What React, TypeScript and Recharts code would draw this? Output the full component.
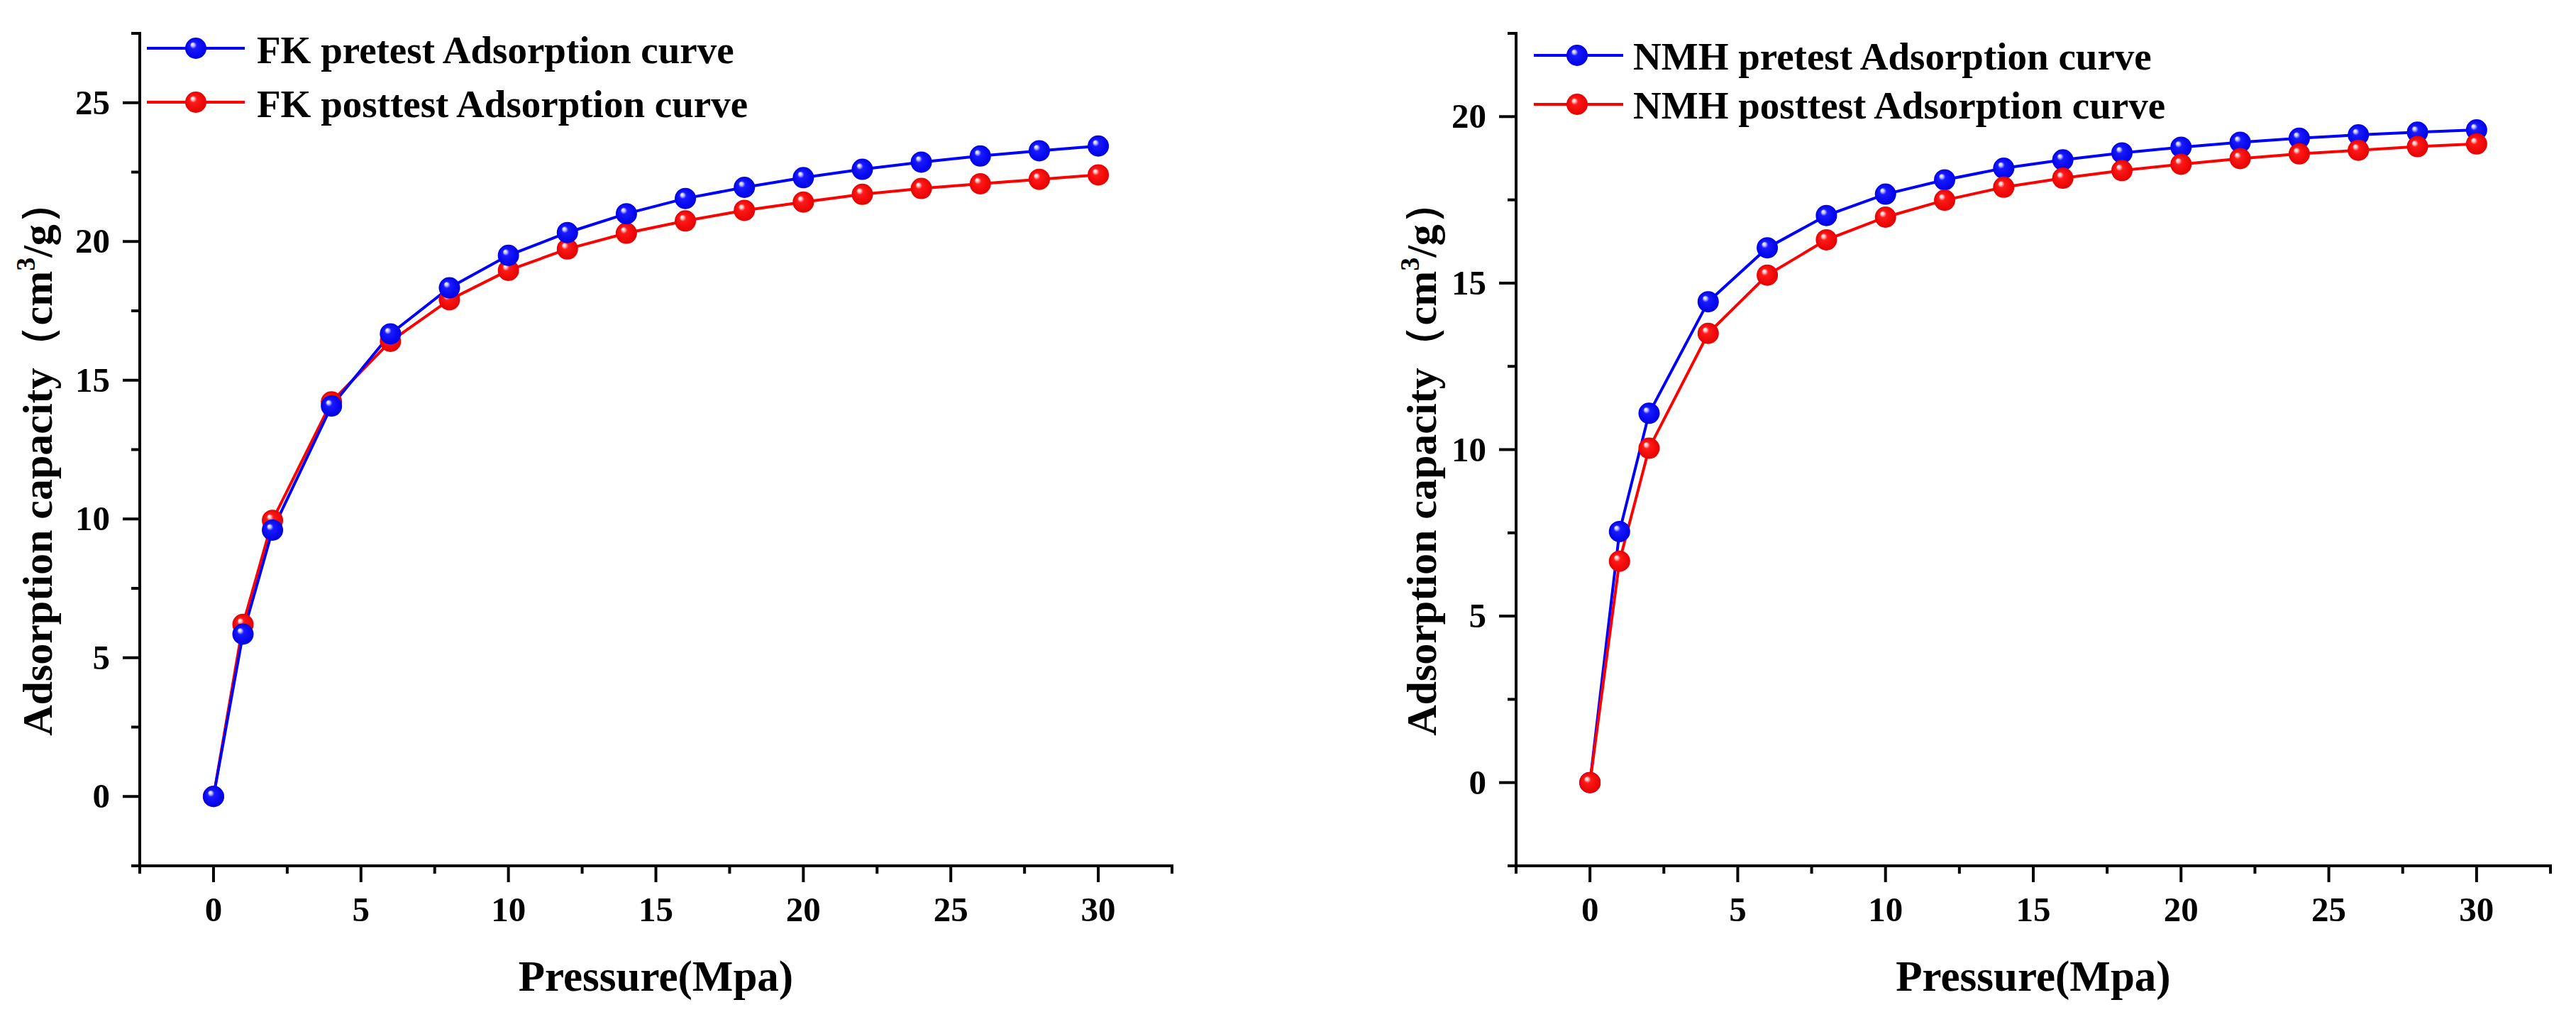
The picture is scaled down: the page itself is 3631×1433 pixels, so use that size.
import React from 'react';
import { LineChart, Line, XAxis, YAxis, Label, Legend } from 'recharts';

// ---------- data ----------
const pressure = [0, 1, 2, 4, 6, 8, 10, 12, 14, 16, 18, 20, 22, 24, 26, 28, 30];

const fkPretest = [0, 5.85, 9.6, 14.07, 16.67, 18.33, 19.5, 20.32, 21.0, 21.55, 21.95, 22.3, 22.6, 22.86, 23.08, 23.27, 23.44];
const fkPosttest = [0, 6.2, 9.95, 14.22, 16.4, 17.9, 18.96, 19.73, 20.3, 20.74, 21.12, 21.42, 21.7, 21.91, 22.08, 22.24, 22.4];

const nmhPretest = [0, 7.54, 11.09, 14.44, 16.06, 17.03, 17.67, 18.1, 18.45, 18.7, 18.91, 19.08, 19.23, 19.35, 19.45, 19.53, 19.6];
const nmhPosttest = [0, 6.65, 10.04, 13.49, 15.24, 16.3, 16.98, 17.49, 17.88, 18.15, 18.38, 18.57, 18.74, 18.88, 18.99, 19.1, 19.18];

const xTicks = [-2.5, 0, 2.5, 5, 7.5, 10, 12.5, 15, 17.5, 20, 22.5, 25, 27.5, 30, 32.5];
const fkYTicks = [-2.5, 0, 2.5, 5, 7.5, 10, 12.5, 15, 17.5, 20, 22.5, 25, 27.5];
const nmhYTicks = [-2.5, 0, 2.5, 5, 7.5, 10, 12.5, 15, 17.5, 20, 22.5];

const fkNames = ['FK pretest Adsorption curve', 'FK posttest Adsorption curve'];
const nmhNames = ['NMH pretest Adsorption curve', 'NMH posttest Adsorption curve'];

const BLUE = '#0000FF';
const RED = '#FF0000';
const FONT = '"Times New Roman", "Liberation Serif", serif';

const fkData = pressure.map((p, i) => ({ p, pre: fkPretest[i], post: fkPosttest[i] }));
const nmhData = pressure.map((p, i) => ({ p, pre: nmhPretest[i], post: nmhPosttest[i] }));

// ---------- helpers ----------
const isMajor = (v: number) => Math.abs(v % 5) < 1e-6;

const XTick = (props: any) => {
  const { x, y, payload } = props;
  const v = payload.value;
  const major = isMajor(v);
  return (
    <g>
      <line x1={x} x2={x} y1={y} y2={y + (major ? 23 : 11)} stroke="#000" strokeWidth={4} />
      {major && (
        <text x={x} y={y + 78} textAnchor="middle" fontFamily={FONT} fontWeight="bold" fontSize={49} fill="#000">
          {v}
        </text>
      )}
    </g>
  );
};

const YTick = (props: any) => {
  const { x, y, payload } = props;
  const v = payload.value;
  const major = isMajor(v);
  return (
    <g>
      <line x1={x} x2={x - (major ? 24 : 12)} y1={y} y2={y} stroke="#000" strokeWidth={4} />
      {major && (
        <text x={x - 42} y={y + 16} textAnchor="end" fontFamily={FONT} fontWeight="bold" fontSize={49} fill="#000">
          {v}
        </text>
      )}
    </g>
  );
};

const Ball = (props: any) => {
  const { cx, cy, grad } = props;
  if (cx == null || cy == null) return null;
  return <circle cx={cx} cy={cy} r={15} fill={`url(#${grad})`} />;
};

const Gradients = () => (
  <defs>
    <radialGradient id="gradBlue" cx="0.5" cy="0.5" r="0.5" fx="0.33" fy="0.3">
      <stop offset="0" stopColor="#ffffff" />
      <stop offset="0.14" stopColor="#c8c8ff" />
      <stop offset="0.32" stopColor="#1a1aff" />
      <stop offset="1" stopColor="#0000e6" />
    </radialGradient>
    <radialGradient id="gradRed" cx="0.5" cy="0.5" r="0.5" fx="0.33" fy="0.3">
      <stop offset="0" stopColor="#ffffff" />
      <stop offset="0.14" stopColor="#ffc8c8" />
      <stop offset="0.32" stopColor="#ff1a1a" />
      <stop offset="1" stopColor="#e60000" />
    </radialGradient>
  </defs>
);

const makeLegend = (names: string[], cfg: any) => () => {
  const items = [
    { name: names[0], color: BLUE, grad: 'gradBlue' },
    { name: names[1], color: RED, grad: 'gradRed' },
  ];
  return (
    <svg width={1300} height={200} style={{ display: 'block', overflow: 'visible' }}>
      {items.map((it, i) => {
        const y = cfg.rows[i];
        return (
          <g key={it.name}>
            <line x1={cfg.x1} x2={cfg.x2} y1={y} y2={y} stroke={it.color} strokeWidth={4} />
            <circle cx={cfg.mx} cy={y} r={15} fill={`url(#${it.grad})`} />
            <text x={cfg.tx} y={y + cfg.base} fontFamily={FONT} fontWeight="bold" fontSize={55} fill="#000">
              {it.name}
            </text>
          </g>
        );
      })}
    </svg>
  );
};

const XTitle = (props: any) => {
  const vb = props.viewBox || {};
  return (
    <text x={vb.x + vb.width / 2} y={vb.y + 176} textAnchor="middle" fontFamily={FONT} fontWeight="bold" fontSize={61} fill="#000">
      Pressure(Mpa)
    </text>
  );
};

const makeYTitle = (gap: number, plotTop: number, plotBottom: number) => (props: any) => {
  const vb = props.viewBox || {};
  const cx = vb.x + vb.width - gap;
  const cy = (plotTop + plotBottom) / 2 + 13;
  return (
    <text
      x={cx}
      y={cy}
      transform={`rotate(-90, ${cx}, ${cy})`}
      textAnchor="middle"
      fontFamily={FONT}
      fontWeight="bold"
      fontSize={60}
      fill="#000"
    >
      Adsorption capacity（cm
      <tspan dy={-24} fontSize={38}>3</tspan>
      <tspan dy={24}>/g）</tspan>
    </text>
  );
};

const axisLineStyle = { stroke: '#000', strokeWidth: 4, strokeLinecap: 'square' as const };

type PanelProps = {
  width: number;
  data: any[];
  marginLeft: number;
  marginRight: number;
  yDomain: [number, number];
  yTicks: number[];
  names: string[];
  blueOnTop: boolean;
  legendCfg: any;
  titleGap: number;
};

const Panel = (p: PanelProps) => {
  const H = 1433;
  const top = 47;
  const bottom = 113;
  const plotBottom = H - bottom - 100;
  const blue = (
    <Line
      key="pre"
      type="linear"
      dataKey="pre"
      stroke={BLUE}
      strokeWidth={4}
      dot={(d: any) => <Ball key={`b${d.index}`} {...d} grad="gradBlue" />}
      activeDot={false}
      isAnimationActive={false}
    />
  );
  const red = (
    <Line
      key="post"
      type="linear"
      dataKey="post"
      stroke={RED}
      strokeWidth={4}
      dot={(d: any) => <Ball key={`r${d.index}`} {...d} grad="gradRed" />}
      activeDot={false}
      isAnimationActive={false}
    />
  );
  return (
    <LineChart
      width={p.width}
      height={H}
      data={p.data}
      margin={{ top, right: p.marginRight, bottom, left: p.marginLeft }}
    >
      <Gradients />
      <XAxis
        type="number"
        dataKey="p"
        domain={[-2.5, 32.5]}
        ticks={xTicks}
        interval={0}
        height={100}
        tickSize={0}
        tickMargin={0}
        tickLine={false}
        axisLine={axisLineStyle}
        tick={<XTick />}
        allowDataOverflow
      >
        <Label content={<XTitle />} />
      </XAxis>
      <YAxis
        type="number"
        domain={p.yDomain}
        ticks={p.yTicks}
        interval={0}
        width={120}
        tickSize={0}
        tickMargin={0}
        tickLine={false}
        axisLine={axisLineStyle}
        tick={<YTick />}
        allowDataOverflow
      >
        <Label content={makeYTitle(p.titleGap, top, plotBottom)} />
      </YAxis>
      <Legend
        layout="vertical"
        align="center"
        verticalAlign="middle"
        content={makeLegend(p.names, p.legendCfg)}
        wrapperStyle={{ left: 0, top: 0, width: 1300, height: 200, margin: 0, padding: 0 }}
      />
      {p.blueOnTop ? [red, blue] : [blue, red]}
    </LineChart>
  );
};

export default function App() {
  return (
    <div style={{ position: 'absolute', left: 0, top: 0, width: 3631, height: 1433, background: '#fff' }}>
      <div style={{ position: 'absolute', left: 0, top: 0 }}>
        <Panel
          width={1800}
          data={fkData}
          marginLeft={77}
          marginRight={148}
          yDomain={[-2.5, 27.5]}
          yTicks={fkYTicks}
          names={fkNames}
          blueOnTop={true}
          legendCfg={{ rows: [68, 144], x1: 207, x2: 345, mx: 276, tx: 362, base: 21 }}
          titleGap={124}
        />
      </div>
      <div style={{ position: 'absolute', left: 1800, top: 0 }}>
        <Panel
          width={1831}
          data={nmhData}
          marginLeft={217}
          marginRight={36}
          yDomain={[-2.5, 22.5]}
          yTicks={nmhYTicks}
          names={nmhNames}
          blueOnTop={false}
          legendCfg={{ rows: [78, 147], x1: 362, x2: 488, mx: 423, tx: 502, base: 20 }}
          titleGap={113}
        />
      </div>
    </div>
  );
}
